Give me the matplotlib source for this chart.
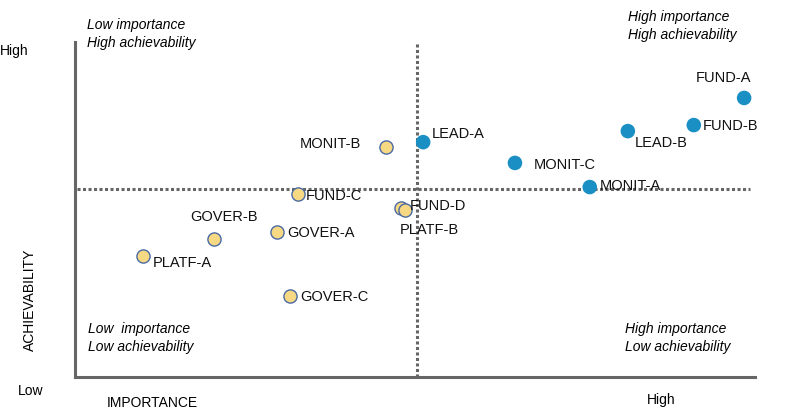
import matplotlib.pyplot as plt

plt.rcParams['font.family'] = ['Liberation Sans', 'DejaVu Sans']

# importance (x) and achievability (y), 0-100 scale
names = ['FUND-A', 'FUND-B', 'LEAD-B', 'MONIT-C', 'MONIT-A', 'LEAD-A',
         'MONIT-B', 'FUND-C', 'FUND-D', 'PLATF-B', 'GOVER-A', 'GOVER-B',
         'PLATF-A', 'GOVER-C']
importance = [98.4, 91.0, 81.3, 64.7, 75.7, 51.2,
              45.7, 32.8, 47.9, 48.5, 29.7, 20.4, 10.0, 31.6]
achievability = [83.3, 75.2, 73.4, 63.9, 56.7, 70.1,
                 68.7, 54.6, 50.4, 49.9, 43.3, 41.2, 36.1, 24.2]
priority = [True, True, True, True, True, True,
            False, False, False, False, False, False, False, False]
# label offsets in pixels
offsets = [(-48, 21), (9, 0), (7, -11), (19, -1), (10, 2), (9, 9),
           (-86, 4), (8, -1), (9, 3), (-5, -19), (10, 0), (-23, 23),
           (10, -6), (10, 0)]

x_split = 50.3
y_split = 56.1

fig = plt.figure(figsize=(7.87, 4.10), dpi=100)
ax = fig.add_axes([75/787, 32/410, 680/787, 335/410])
ax.set_xlim(0, 100)
ax.set_ylim(0, 100)

# quadrant dividers
ax.plot([0.3, 99.3], [y_split, y_split], color='#666666', lw=2.2,
        linestyle=(0, (1, 0.8)), zorder=1)
ax.plot([x_split, x_split], [0, 100], color='#666666', lw=2.2,
        linestyle=(0, (1, 0.8)), zorder=1)

for n, xv, yv, p, off in zip(names, importance, achievability, priority, offsets):
    if p:
        ax.scatter(xv, yv, s=110, color='#1a8fc4', edgecolors='none', zorder=3)
    else:
        ax.scatter(xv, yv, s=90, color='#f8d983', edgecolors='#4a6aa5',
                   linewidths=1, zorder=3)
    ax.annotate(n, (xv, yv), xytext=off, textcoords='offset pixels',
                ha='left', va='center', fontsize=10.5, color='#111111', zorder=4)

for s in ['top', 'right']:
    ax.spines[s].set_visible(False)
for s in ['left', 'bottom']:
    ax.spines[s].set_color('#666666')
    ax.spines[s].set_linewidth(2.2)
ax.set_xticks([])
ax.set_yticks([])

# quadrant captions (figure pixels)
def fig_text(px, py, txt, **kw):
    fig.text(px/787, 1 - py/410, txt, fontsize=10, **kw)

fig_text(87, 34, 'Low importance\nHigh achievability', style='italic',
         va='center', linespacing=1.35)
fig_text(628, 26, 'High importance\nHigh achievability', style='italic',
         va='center', linespacing=1.35)
fig_text(88, 338, 'Low  importance\nLow achievability', style='italic',
         va='center', linespacing=1.35)
fig_text(625, 338, 'High importance\nLow achievability', style='italic',
         va='center', linespacing=1.35)

fig_text(0, 51, 'High', va='center')
fig_text(18, 391, 'Low', va='center')
fig_text(107, 403, 'IMPORTANCE', va='center')
fig_text(647, 400, 'High', va='center')
fig.text(30/787, 1 - 300/410, 'ACHIEVABILITY', rotation=90, fontsize=10,
         ha='center', va='center')

fig.savefig('out.png', dpi=100)
